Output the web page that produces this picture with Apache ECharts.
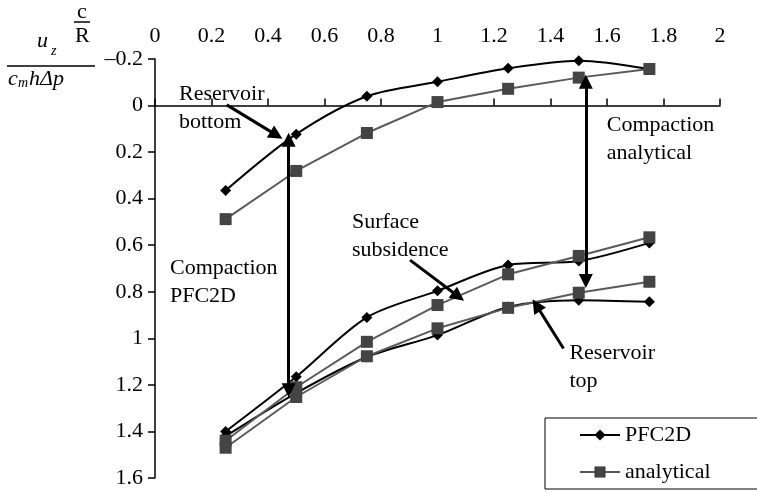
<!DOCTYPE html>
<html>
<head>
<meta charset="utf-8">
<script src="https://cdn.jsdelivr.net/npm/echarts@6/dist/echarts.min.js"></script>
<style>
  html, body { margin: 0; padding: 0; background: #fff; }
  #chart { width: 757px; height: 493px; }
</style>
</head>
<body>
<div id="chart"></div>
<script>
// x = c/R
const xValues = [0.25, 0.5, 0.75, 1, 1.25, 1.5, 1.75]
// reservoir bottom
const pfcBottom = [0.365, 0.123, -0.04, -0.102, -0.16, -0.193, -0.157]
const anaBottom = [0.488, 0.281, 0.118, -0.015, -0.072, -0.12, -0.157]
// surface subsidence
const pfcSurface = [1.40, 1.165, 0.91, 0.796, 0.685, 0.668, 0.59]
const anaSurface = [1.44, 1.21, 1.015, 0.857, 0.725, 0.646, 0.566]
// reservoir top
const pfcTop = [1.42, 1.235, 1.08, 0.986, 0.865, 0.836, 0.843]
const anaTop = [1.47, 1.252, 1.077, 0.957, 0.869, 0.804, 0.757]

// annotations (data units)
const notes = [
  { pos: [0.085, 0.012], text: 'Reservoir\nbottom' },
  { pos: [1.599, 0.143], text: 'Compaction\nanalytical' },
  { pos: [0.697, 0.560], text: 'Surface\nsubsidence' },
  { pos: [0.053, 0.760], text: 'Compaction\nPFC2D' },
  { pos: [1.467, 1.126], text: 'Reservoir\ntop' }
]
const singleArrows = [
  [[0.254, -0.003], [0.430, 0.127]],
  [[0.903, 0.664], [1.074, 0.820]],
  [[1.446, 1.044], [1.350, 0.858]]
]
const doubleArrows = [
  [[0.473, 0.147], [0.473, 1.223]],
  [[1.525, -0.102], [1.525, 0.754]]
]

const serif = 'Liberation Serif'
const fs = 22
const fmt = (v) => String(+(+v).toFixed(1)).replace('-', '\u2013')
const pts = (arr) => xValues.map((x, i) => [x, arr[i]])

function pfcSeries(arr) {
  return {
    name: 'PFC2D', type: 'line', data: pts(arr), smooth: 0.3,
    symbol: 'diamond', symbolSize: 11,
    itemStyle: { color: '#000' },
    lineStyle: { color: '#000', width: 2 },
    z: 2
  }
}
function anaSeries(arr) {
  return {
    name: 'analytical', type: 'line', data: pts(arr),
    symbol: 'rect', symbolSize: 12,
    itemStyle: { color: '#444' },
    lineStyle: { color: '#5a5a5a', width: 2 },
    z: 3
  }
}

const myChart = echarts.init(document.getElementById('chart'))
const option = {
  animation: false,
  textStyle: { fontFamily: serif },
  grid: { left: 155, right: 37, top: 59, bottom: 15 },
  legend: {
    data: ['PFC2D', 'analytical'],
    orient: 'vertical',
    left: 545, top: 418,
    itemWidth: 40, itemHeight: 14, itemGap: 13,
    padding: [5, 50, 5, 34],
    borderColor: '#000', borderWidth: 1,
    textStyle: { fontFamily: serif, fontSize: fs, color: '#000', lineHeight: 24 }
  },
  xAxis: {
    type: 'value', position: 'top',
    min: 0, max: 2, interval: 0.2,
    axisLine: { lineStyle: { color: '#000', width: 1.5 } },
    axisTick: { length: 7, lineStyle: { color: '#000', width: 1.5 } },
    axisLabel: { formatter: fmt, fontSize: fs, color: '#000', fontFamily: serif, margin: 12 },
    splitLine: { show: false }
  },
  yAxis: {
    type: 'value', inverse: true,
    min: -0.2, max: 1.6, interval: 0.2,
    axisLine: { show: true, lineStyle: { color: '#000', width: 1.5 } },
    axisTick: { show: true, length: 7, lineStyle: { color: '#000', width: 1.5 } },
    axisLabel: { formatter: fmt, fontSize: fs, color: '#000', fontFamily: serif, margin: 12 },
    splitLine: { show: false }
  },
  series: [
    pfcSeries(pfcBottom), pfcSeries(pfcSurface), pfcSeries(pfcTop),
    anaSeries(anaBottom), anaSeries(anaSurface), anaSeries(anaTop),
    {
      type: 'lines', coordinateSystem: 'cartesian2d',
      symbol: ['none', 'triangle'], symbolSize: 14,
      lineStyle: { color: '#000', width: 3, opacity: 1 },
      data: singleArrows.map((c) => ({ coords: c })),
      z: 5
    },
    {
      type: 'lines', coordinateSystem: 'cartesian2d',
      symbol: ['triangle', 'triangle'], symbolSize: 14,
      lineStyle: { color: '#000', width: 3, opacity: 1 },
      data: doubleArrows.map((c) => ({ coords: c })),
      z: 5
    },
    {
      type: 'scatter', symbolSize: 0, silent: true,
      itemStyle: { opacity: 1 },
      data: notes.map((n) => ({ value: n.pos, label: { formatter: n.text } })),
      label: {
        show: true, position: 'right', distance: 0,
        fontFamily: serif, fontSize: fs, lineHeight: 28, color: '#000', opacity: 1
      },
      z: 6
    }
  ],
  // y axis title:  u_z / (c_m h Δp),  x title: c / R
  graphic: [
    { type: 'text', left: 37, top: 30, style: { text: 'u', font: 'italic 22px ' + serif, fill: '#000' } },
    { type: 'text', left: 51, top: 44, style: { text: 'z', font: 'italic 14px ' + serif, fill: '#000' } },
    { type: 'line', shape: { x1: 7, y1: 66, x2: 95, y2: 66 }, style: { stroke: '#000', lineWidth: 1.5 } },
    { type: 'text', left: 8, top: 68, style: { text: 'c', font: 'italic 22px ' + serif, fill: '#000' } },
    { type: 'text', left: 18, top: 76, style: { text: 'm', font: 'italic 14px ' + serif, fill: '#000' } },
    { type: 'text', left: 29, top: 68, style: { text: 'h\u0394p', font: 'italic 22px ' + serif, fill: '#000' } },
    { type: 'text', left: 77, top: 1, style: { text: 'c', font: '22px ' + serif, fill: '#000' } },
    { type: 'line', shape: { x1: 74, y1: 22, x2: 90, y2: 22 }, style: { stroke: '#000', lineWidth: 1.5 } },
    { type: 'text', left: 75, top: 25, style: { text: 'R', font: '22px ' + serif, fill: '#000' } }
  ]
}
myChart.setOption(option)
</script>
</body>
</html>
